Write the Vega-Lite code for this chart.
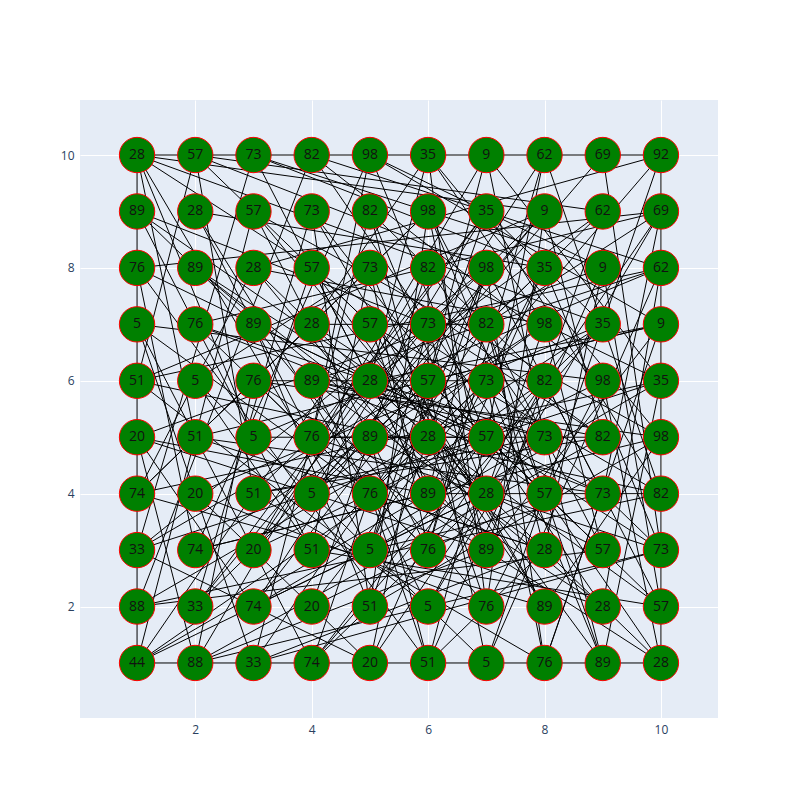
{"$schema":"https://vega.github.io/schema/vega-lite/v6.json","width":638,"height":618,"autosize":"none","padding":{"left":80,"top":100,"right":82,"bottom":82},"background":"white",
"config":{"view":{"fill":"#E5ECF6","stroke":null},"axis":{"grid":true,"gridColor":"white","gridWidth":1,"domain":false,"ticks":false,"labelColor":"#2a3f5f","labelFont":"Open Sans","labelFontSize":12,"title":null,"labelPadding":6,"format":"d"}},
"datasets":{"edges":[
{"a":1,"b":1,"c":10,"d":1},{"a":1,"b":1,"c":1,"d":10},{"a":1,"b":10,"c":10,"d":10},{"a":10,"b":1,"c":10,"d":10},
{"a":1,"b":1,"c":5,"d":7},{"a":1,"b":1,"c":7,"d":4},{"a":1,"b":1,"c":3,"d":9},{"a":1,"b":1,"c":8,"d":6},{"a":1,"b":2,"c":6,"d":5},{"a":1,"b":2,"c":9,"d":3},
{"a":1,"b":3,"c":7,"d":8},{"a":1,"b":3,"c":5,"d":1},{"a":1,"b":3,"c":10,"d":6},{"a":1,"b":4,"c":6,"d":9},{"a":1,"b":4,"c":8,"d":2},{"a":1,"b":4,"c":4,"d":7},
{"a":1,"b":5,"c":7,"d":3},{"a":1,"b":5,"c":9,"d":8},{"a":1,"b":5,"c":3,"d":2},{"a":1,"b":6,"c":6,"d":2},{"a":1,"b":6,"c":8,"d":9},{"a":1,"b":6,"c":10,"d":4},
{"a":1,"b":7,"c":5,"d":4},{"a":1,"b":7,"c":9,"d":6},{"a":1,"b":7,"c":4,"d":1},{"a":1,"b":8,"c":7,"d":5},{"a":1,"b":8,"c":6,"d":1},{"a":1,"b":8,"c":10,"d":9},
{"a":1,"b":9,"c":6,"d":7},{"a":1,"b":9,"c":8,"d":4},{"a":1,"b":9,"c":4,"d":3},{"a":1,"b":10,"c":5,"d":3},{"a":1,"b":10,"c":7,"d":6},{"a":1,"b":10,"c":3,"d":5},
{"a":2,"b":1,"c":6,"d":8},{"a":2,"b":1,"c":9,"d":5},{"a":2,"b":2,"c":7,"d":9},{"a":2,"b":2,"c":5,"d":5},{"a":2,"b":3,"c":8,"d":7},{"a":2,"b":3,"c":6,"d":4},
{"a":2,"b":4,"c":7,"d":2},{"a":2,"b":4,"c":9,"d":7},{"a":2,"b":5,"c":6,"d":9},{"a":2,"b":5,"c":8,"d":3},{"a":2,"b":6,"c":7,"d":1},{"a":2,"b":6,"c":5,"d":8},
{"a":2,"b":7,"c":8,"d":5},{"a":2,"b":7,"c":6,"d":3},{"a":2,"b":8,"c":7,"d":4},{"a":2,"b":8,"c":9,"d":2},{"a":2,"b":9,"c":5,"d":4},{"a":2,"b":9,"c":8,"d":8},
{"a":2,"b":10,"c":6,"d":6},{"a":2,"b":10,"c":9,"d":9},{"a":3,"b":1,"c":7,"d":7},{"a":3,"b":1,"c":10,"d":3},{"a":3,"b":2,"c":6,"d":6},{"a":3,"b":2,"c":8,"d":5},
{"a":3,"b":3,"c":9,"d":6},{"a":3,"b":3,"c":7,"d":10},{"a":3,"b":4,"c":6,"d":7},{"a":3,"b":4,"c":8,"d":1},{"a":3,"b":5,"c":7,"d":5},{"a":3,"b":5,"c":10,"d":8},
{"a":3,"b":6,"c":6,"d":3},{"a":3,"b":6,"c":8,"d":6},{"a":3,"b":7,"c":7,"d":2},{"a":3,"b":7,"c":9,"d":4},{"a":3,"b":8,"c":6,"d":5},{"a":3,"b":8,"c":8,"d":7},
{"a":3,"b":9,"c":7,"d":4},{"a":3,"b":9,"c":10,"d":5},{"a":3,"b":10,"c":6,"d":4},{"a":3,"b":10,"c":8,"d":8},{"a":4,"b":1,"c":7,"d":5},{"a":4,"b":1,"c":9,"d":7},
{"a":4,"b":2,"c":6,"d":8},{"a":4,"b":2,"c":8,"d":4},{"a":4,"b":3,"c":7,"d":6},{"a":4,"b":3,"c":10,"d":2},{"a":4,"b":4,"c":6,"d":6},{"a":4,"b":4,"c":8,"d":9},
{"a":4,"b":5,"c":7,"d":3},{"a":4,"b":5,"c":9,"d":5},{"a":4,"b":6,"c":6,"d":2},{"a":4,"b":6,"c":8,"d":5},{"a":4,"b":7,"c":7,"d":7},{"a":4,"b":7,"c":10,"d":3},
{"a":4,"b":8,"c":6,"d":4},{"a":4,"b":8,"c":9,"d":3},{"a":4,"b":9,"c":7,"d":5},{"a":4,"b":9,"c":8,"d":2},{"a":4,"b":10,"c":6,"d":7},{"a":4,"b":10,"c":9,"d":6},
{"a":5,"b":1,"c":6,"d":6},{"a":5,"b":1,"c":8,"d":8},{"a":5,"b":2,"c":7,"d":8},{"a":5,"b":2,"c":10,"d":5},{"a":5,"b":3,"c":6,"d":7},{"a":5,"b":3,"c":9,"d":4},
{"a":5,"b":4,"c":7,"d":6},{"a":5,"b":4,"c":8,"d":3},{"a":5,"b":5,"c":6,"d":3},{"a":5,"b":5,"c":9,"d":9},{"a":5,"b":6,"c":7,"d":4},{"a":5,"b":6,"c":10,"d":7},
{"a":5,"b":7,"c":6,"d":4},{"a":5,"b":7,"c":8,"d":2},{"a":5,"b":8,"c":7,"d":3},{"a":5,"b":8,"c":9,"d":5},{"a":5,"b":9,"c":6,"d":5},{"a":5,"b":9,"c":8,"d":6},
{"a":5,"b":10,"c":7,"d":5},{"a":5,"b":10,"c":10,"d":7},{"a":6,"b":1,"c":7,"d":5},{"a":6,"b":1,"c":9,"d":8},{"a":6,"b":2,"c":8,"d":6},{"a":6,"b":2,"c":10,"d":9},
{"a":6,"b":3,"c":7,"d":7},{"a":6,"b":3,"c":9,"d":2},{"a":6,"b":4,"c":8,"d":8},{"a":6,"b":4,"c":10,"d":4},{"a":6,"b":5,"c":7,"d":2},{"a":6,"b":5,"c":9,"d":7},
{"a":6,"b":6,"c":8,"d":4},{"a":6,"b":6,"c":10,"d":2},{"a":6,"b":7,"c":7,"d":3},{"a":6,"b":7,"c":9,"d":5},{"a":6,"b":8,"c":8,"d":5},{"a":6,"b":8,"c":10,"d":6},
{"a":6,"b":9,"c":7,"d":4},{"a":6,"b":9,"c":9,"d":3},{"a":6,"b":10,"c":8,"d":7},{"a":6,"b":10,"c":10,"d":5},{"a":7,"b":1,"c":8,"d":4},{"a":7,"b":1,"c":10,"d":8},
{"a":7,"b":2,"c":9,"d":6},{"a":7,"b":2,"c":8,"d":9},{"a":7,"b":3,"c":10,"d":7},{"a":7,"b":3,"c":9,"d":9},{"a":7,"b":4,"c":8,"d":7},{"a":7,"b":4,"c":10,"d":1},
{"a":7,"b":5,"c":9,"d":2},{"a":7,"b":5,"c":8,"d":10},{"a":7,"b":6,"c":10,"d":3},{"a":7,"b":6,"c":9,"d":1},{"a":7,"b":7,"c":8,"d":3},{"a":7,"b":7,"c":10,"d":9},
{"a":7,"b":8,"c":9,"d":4},{"a":7,"b":8,"c":8,"d":1},{"a":7,"b":9,"c":10,"d":4},{"a":7,"b":9,"c":9,"d":7},{"a":7,"b":10,"c":8,"d":5},{"a":7,"b":10,"c":10,"d":6},
{"a":8,"b":1,"c":9,"d":4},{"a":8,"b":1,"c":10,"d":7},{"a":8,"b":2,"c":10,"d":5},{"a":8,"b":3,"c":9,"d":8},{"a":8,"b":4,"c":10,"d":10},{"a":8,"b":5,"c":9,"d":1},
{"a":8,"b":6,"c":10,"d":2},{"a":8,"b":7,"c":9,"d":3},{"a":8,"b":8,"c":10,"d":3},{"a":8,"b":9,"c":9,"d":5},{"a":8,"b":10,"c":10,"d":4},{"a":9,"b":1,"c":10,"d":6},
{"a":9,"b":2,"c":10,"d":8},{"a":9,"b":4,"c":10,"d":9},{"a":9,"b":6,"c":10,"d":1},{"a":9,"b":8,"c":10,"d":2},{"a":9,"b":10,"c":10,"d":3},{"a":1,"b":2,"c":4,"d":10},
{"a":1,"b":3,"c":3,"d":10},{"a":1,"b":5,"c":2,"d":1},{"a":1,"b":6,"c":2,"d":10},{"a":1,"b":7,"c":3,"d":1},{"a":1,"b":8,"c":2,"d":3},{"a":1,"b":9,"c":3,"d":7},
{"a":1,"b":10,"c":2,"d":5},{"a":1,"b":4,"c":3,"d":8},{"a":2,"b":1,"c":3,"d":6},{"a":2,"b":2,"c":4,"d":9},{"a":2,"b":3,"c":5,"d":10},{"a":2,"b":4,"c":5,"d":1},
{"a":2,"b":6,"c":4,"d":3},{"a":2,"b":8,"c":5,"d":6},{"a":2,"b":9,"c":4,"d":5},{"a":2,"b":10,"c":3,"d":4},{"a":3,"b":1,"c":5,"d":9},{"a":3,"b":3,"c":5,"d":6},
{"a":3,"b":5,"c":4,"d":8},{"a":3,"b":7,"c":5,"d":2},{"a":3,"b":9,"c":5,"d":5},{"a":4,"b":1,"c":5,"d":4},{"a":4,"b":3,"c":5,"d":8},{"a":4,"b":5,"c":5,"d":10},
{"a":4,"b":7,"c":6,"d":10},{"a":4,"b":9,"c":5,"d":2},{"a":5,"b":2,"c":6,"d":9},{"a":5,"b":4,"c":6,"d":1},{"a":5,"b":6,"c":6,"d":10},{"a":5,"b":8,"c":6,"d":3},
{"a":6,"b":1,"c":8,"d":3},{"a":6,"b":3,"c":8,"d":10},{"a":6,"b":5,"c":8,"d":2},{"a":6,"b":7,"c":8,"d":9},{"a":6,"b":9,"c":8,"d":4},{"a":7,"b":2,"c":6,"d":10},
{"a":7,"b":4,"c":5,"d":9},{"a":7,"b":6,"c":4,"d":2},{"a":7,"b":8,"c":5,"d":3},{"a":8,"b":3,"c":4,"d":6},{"a":8,"b":5,"c":3,"d":4},{"a":8,"b":7,"c":4,"d":4},
{"a":8,"b":9,"c":3,"d":3},{"a":9,"b":3,"c":5,"d":5},{"a":9,"b":5,"c":4,"d":6},{"a":9,"b":7,"c":6,"d":4},{"a":9,"b":9,"c":5,"d":6},{"a":10,"b":2,"c":6,"d":5},
{"a":10,"b":3,"c":4,"d":5},{"a":10,"b":4,"c":5,"d":7},{"a":10,"b":5,"c":3,"d":6},{"a":10,"b":6,"c":5,"d":3},{"a":10,"b":7,"c":6,"d":6},{"a":10,"b":8,"c":4,"d":6},
{"a":10,"b":9,"c":6,"d":3},{"a":10,"b":10,"c":5,"d":4},{"a":10,"b":1,"c":6,"d":7},{"a":9,"b":10,"c":4,"d":4},{"a":8,"b":10,"c":3,"d":2},{"a":9,"b":1,"c":4,"d":8},
{"a":1,"b":10,"c":9,"d":7},{"a":1,"b":10,"c":8,"d":9},{"a":2,"b":10,"c":7,"d":8},{"a":3,"b":10,"c":9,"d":8},{"a":4,"b":10,"c":10,"d":8},{"a":5,"b":10,"c":9,"d":8},
{"a":10,"b":10,"c":3,"d":8},{"a":10,"b":9,"c":2,"d":7},{"a":10,"b":8,"c":1,"d":6},{"a":10,"b":7,"c":2,"d":5},{"a":10,"b":6,"c":1,"d":4},{"a":10,"b":5,"c":2,"d":3},
{"a":10,"b":4,"c":1,"d":2},{"a":10,"b":3,"c":2,"d":1},{"a":1,"b":1,"c":6,"d":4},{"a":2,"b":1,"c":7,"d":3},{"a":3,"b":1,"c":8,"d":3},{"a":4,"b":1,"c":8,"d":5},
{"a":5,"b":1,"c":7,"d":4},{"a":6,"b":1,"c":5,"d":5},{"a":7,"b":1,"c":6,"d":6},{"a":8,"b":1,"c":7,"d":6},{"a":9,"b":1,"c":7,"d":7},{"a":10,"b":1,"c":7,"d":3},
{"a":6,"b":4,"c":7,"d":8},{"a":5,"b":3,"c":7,"d":9},{"a":6,"b":6,"c":7,"d":10},{"a":4,"b":4,"c":7,"d":9},{"a":5,"b":5,"c":8,"d":8},{"a":6,"b":5,"c":6,"d":8},
{"a":3,"b":6,"c":9,"d":2},{"a":2,"b":5,"c":9,"d":4},{"a":3,"b":4,"c":9,"d":5},{"a":4,"b":6,"c":9,"d":4},{"a":5,"b":7,"c":9,"d":3},{"a":4,"b":5,"c":7,"d":9},
{"a":1,"b":3,"c":6,"d":6},{"a":1,"b":5,"c":6,"d":4},{"a":2,"b":7,"c":7,"d":5},{"a":3,"b":8,"c":7,"d":3},{"a":2,"b":2,"c":6,"d":7},{"a":3,"b":2,"c":7,"d":4}
],
"nodes":[
{"x":1,"y":1,"v":"44"},{"x":2,"y":1,"v":"88"},{"x":3,"y":1,"v":"33"},{"x":4,"y":1,"v":"74"},{"x":5,"y":1,"v":"20"},{"x":6,"y":1,"v":"51"},{"x":7,"y":1,"v":"5"},{"x":8,"y":1,"v":"76"},{"x":9,"y":1,"v":"89"},{"x":10,"y":1,"v":"28"},
{"x":1,"y":2,"v":"88"},{"x":2,"y":2,"v":"33"},{"x":3,"y":2,"v":"74"},{"x":4,"y":2,"v":"20"},{"x":5,"y":2,"v":"51"},{"x":6,"y":2,"v":"5"},{"x":7,"y":2,"v":"76"},{"x":8,"y":2,"v":"89"},{"x":9,"y":2,"v":"28"},{"x":10,"y":2,"v":"57"},
{"x":1,"y":3,"v":"33"},{"x":2,"y":3,"v":"74"},{"x":3,"y":3,"v":"20"},{"x":4,"y":3,"v":"51"},{"x":5,"y":3,"v":"5"},{"x":6,"y":3,"v":"76"},{"x":7,"y":3,"v":"89"},{"x":8,"y":3,"v":"28"},{"x":9,"y":3,"v":"57"},{"x":10,"y":3,"v":"73"},
{"x":1,"y":4,"v":"74"},{"x":2,"y":4,"v":"20"},{"x":3,"y":4,"v":"51"},{"x":4,"y":4,"v":"5"},{"x":5,"y":4,"v":"76"},{"x":6,"y":4,"v":"89"},{"x":7,"y":4,"v":"28"},{"x":8,"y":4,"v":"57"},{"x":9,"y":4,"v":"73"},{"x":10,"y":4,"v":"82"},
{"x":1,"y":5,"v":"20"},{"x":2,"y":5,"v":"51"},{"x":3,"y":5,"v":"5"},{"x":4,"y":5,"v":"76"},{"x":5,"y":5,"v":"89"},{"x":6,"y":5,"v":"28"},{"x":7,"y":5,"v":"57"},{"x":8,"y":5,"v":"73"},{"x":9,"y":5,"v":"82"},{"x":10,"y":5,"v":"98"},
{"x":1,"y":6,"v":"51"},{"x":2,"y":6,"v":"5"},{"x":3,"y":6,"v":"76"},{"x":4,"y":6,"v":"89"},{"x":5,"y":6,"v":"28"},{"x":6,"y":6,"v":"57"},{"x":7,"y":6,"v":"73"},{"x":8,"y":6,"v":"82"},{"x":9,"y":6,"v":"98"},{"x":10,"y":6,"v":"35"},
{"x":1,"y":7,"v":"5"},{"x":2,"y":7,"v":"76"},{"x":3,"y":7,"v":"89"},{"x":4,"y":7,"v":"28"},{"x":5,"y":7,"v":"57"},{"x":6,"y":7,"v":"73"},{"x":7,"y":7,"v":"82"},{"x":8,"y":7,"v":"98"},{"x":9,"y":7,"v":"35"},{"x":10,"y":7,"v":"9"},
{"x":1,"y":8,"v":"76"},{"x":2,"y":8,"v":"89"},{"x":3,"y":8,"v":"28"},{"x":4,"y":8,"v":"57"},{"x":5,"y":8,"v":"73"},{"x":6,"y":8,"v":"82"},{"x":7,"y":8,"v":"98"},{"x":8,"y":8,"v":"35"},{"x":9,"y":8,"v":"9"},{"x":10,"y":8,"v":"62"},
{"x":1,"y":9,"v":"89"},{"x":2,"y":9,"v":"28"},{"x":3,"y":9,"v":"57"},{"x":4,"y":9,"v":"73"},{"x":5,"y":9,"v":"82"},{"x":6,"y":9,"v":"98"},{"x":7,"y":9,"v":"35"},{"x":8,"y":9,"v":"9"},{"x":9,"y":9,"v":"62"},{"x":10,"y":9,"v":"69"},
{"x":1,"y":10,"v":"28"},{"x":2,"y":10,"v":"57"},{"x":3,"y":10,"v":"73"},{"x":4,"y":10,"v":"82"},{"x":5,"y":10,"v":"98"},{"x":6,"y":10,"v":"35"},{"x":7,"y":10,"v":"9"},{"x":8,"y":10,"v":"62"},{"x":9,"y":10,"v":"69"},{"x":10,"y":10,"v":"92"}
]},
"layer":[
{"data":{"name":"edges"},"mark":{"type":"rule","color":"black","strokeWidth":1},
"encoding":{"x":{"field":"a","type":"quantitative","scale":{"domain":[0.02,10.98],"nice":false,"zero":false},"axis":{"values":[2,4,6,8,10]}},"y":{"field":"b","type":"quantitative","scale":{"domain":[0.025,10.975],"nice":false,"zero":false},"axis":{"values":[2,4,6,8,10]}},"x2":{"field":"c"},"y2":{"field":"d"}}},
{"data":{"name":"nodes"},"mark":{"type":"circle","fill":"green","fillOpacity":1,"stroke":"red","strokeWidth":1,"size":1250},
"encoding":{"x":{"field":"x","type":"quantitative"},"y":{"field":"y","type":"quantitative"}}},
{"data":{"name":"nodes"},"mark":{"type":"text","fontSize":14,"font":"Open Sans","color":"#111"},
"encoding":{"x":{"field":"x","type":"quantitative"},"y":{"field":"y","type":"quantitative"},"text":{"field":"v"}}}
]}
